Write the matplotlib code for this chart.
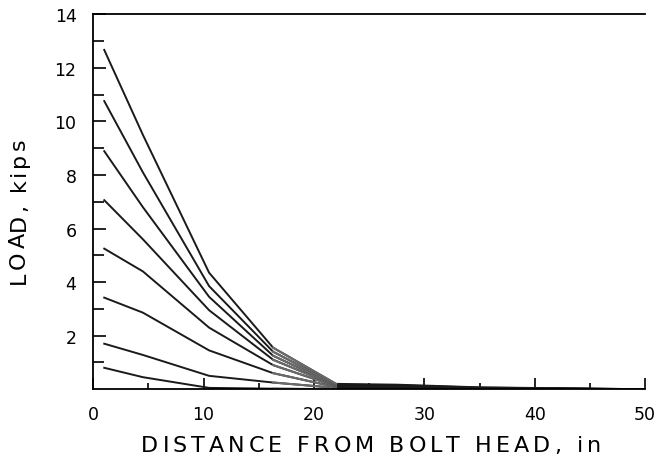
import matplotlib
matplotlib.use("Agg")
import matplotlib.pyplot as plt
import numpy as np
from matplotlib.font_manager import FontProperties, findfont, get_font

# distance from bolt head (in) where the load was read
dist = [1, 4.5, 10.5, 16.3, 22, 27.5, 35, 50]

# load along the bolt, one list per applied load (kips), lowest first
load1 = [0.80, 0.45, 0.05, 0.02, 0.00, 0.00, 0.00, 0.0]
load2 = [1.70, 1.28, 0.50, 0.25, 0.05, 0.03, 0.01, 0.0]
load3 = [3.42, 2.86, 1.45, 0.60, 0.08, 0.06, 0.02, 0.0]
load4 = [5.25, 4.40, 2.30, 0.90, 0.11, 0.09, 0.03, 0.0]
load5 = [7.06, 5.60, 2.95, 1.10, 0.13, 0.11, 0.04, 0.0]
load6 = [8.89, 6.80, 3.45, 1.25, 0.15, 0.13, 0.05, 0.0]
load7 = [10.76, 8.10, 3.85, 1.40, 0.17, 0.15, 0.06, 0.0]
load8 = [12.67, 9.50, 4.35, 1.55, 0.20, 0.17, 0.07, 0.0]
curves = [load1, load2, load3, load4, load5, load6, load7, load8]

xticks = [0, 10, 20, 30, 40, 50]
yticks = [2, 4, 6, 8, 10, 12, 14]

xlabel = "DISTANCE FROM BOLT HEAD, in"
ylabel = "LOAD, kips"

W, H, DPI = 661, 464, 100


# the old typewriter-style labels have wide letter spacing, so set each letter
def spaced_text(fig, s, cx, cy, size, track, vertical=False):
    fp = FontProperties(family="DejaVu Sans", size=size)
    font = get_font(findfont(fp))
    font.set_size(size, DPI)
    adv = [font.load_char(ord(ch)).linearHoriAdvance / 65536 for ch in s]
    total = sum(adv) + track * (len(s) - 1)
    pos = -total / 2
    for ch, a in zip(s, adv):
        if vertical:
            fig.text(cx / W, 1 - (cy - pos) / H, ch, fontproperties=fp,
                     rotation=90, ha="center", va="bottom")
        else:
            fig.text((cx + pos) / W, 1 - cy / H, ch, fontproperties=fp,
                     ha="left", va="center")
        pos += a + track


fig = plt.figure(figsize=(W / DPI, H / DPI), dpi=DPI)
ax = fig.add_axes([0.141, 0.159, 0.835, 0.808])

for c in curves:
    ax.plot(dist, c, color="#1a1a1a", lw=1.4)
    # the fan where the curves come together looks gray in the original
    ax.plot(dist[3:5], c[3:5], color="#6a6a6a", lw=1.5)

ax.set_xlim(0, 50)
ax.set_ylim(0, 14)
ax.set_xticks(xticks)
ax.set_xticks(np.arange(5, 50, 10), minor=True)
ax.set_yticks(yticks)
ax.set_yticks(np.arange(1, 14, 2), minor=True)
ax.tick_params(axis="both", which="both", direction="in", top=False, right=False,
               labelsize=12.5, width=1.2)
ax.tick_params(axis="x", which="major", length=8, pad=11)
ax.tick_params(axis="x", which="minor", length=4)
ax.tick_params(axis="y", which="major", length=9, pad=12)
ax.tick_params(axis="y", which="minor", length=8)

for s in ax.spines.values():
    s.set_linewidth(1.3)
ax.spines["right"].set_visible(False)

spaced_text(fig, xlabel, 371, 446, 16, 4)
spaced_text(fig, ylabel, 19, 211, 16, 2.7, vertical=True)

fig.savefig("out.png", dpi=DPI)
